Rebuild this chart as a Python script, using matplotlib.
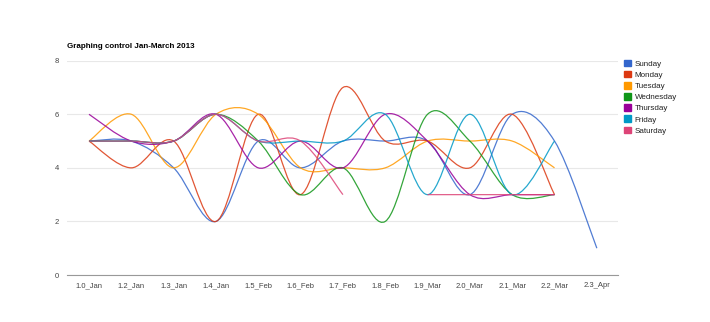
import numpy as np
import matplotlib
matplotlib.use("Agg")
import matplotlib.pyplot as plt
from matplotlib.path import Path
from matplotlib.patches import PathPatch, Patch

plt.rcParams['font.family'] = ['Liberation Sans', 'DejaVu Sans']

categories = ["1.0_Jan", "1.2_Jan", "1.3_Jan", "1.4_Jan", "1.5_Feb", "1.6_Feb", "1.7_Feb",
              "1.8_Feb", "1.9_Mar", "2.0_Mar", "2.1_Mar", "2.2_Mar", "2.3_Apr"]

sunday = [5, 5, 4, 2, 5, 4, 5, 5, 5, 3, 6, 5, 1]
monday = [5, 4, 5, 2, 6, 3, 7, 5, 5, 4, 6, 3, None]
tuesday = [5, 6, 4, 6, 6, 4, 4, 4, 5, 5, 5, 4, None]
wednesday = [5, 5, 5, 6, 5, 3, 4, 2, 6, 5, 3, 3, None]
thursday = [6, 5, 5, 6, 4, 5, 4, 6, 5, 3, 3, 3, None]
friday = [5, 5, 5, 6, 5, 5, 5, 6, 3, 6, 3, 5, None]
saturday = [5, 5, 5, 6, 5, 5, 3, None, 3, 3, 3, 3, None]

series_names = ["Sunday", "Monday", "Tuesday", "Wednesday", "Thursday", "Friday", "Saturday"]
series_values = [sunday, monday, tuesday, wednesday, thursday, friday, saturday]
colors = ["#3366cc", "#dc3912", "#ff9900", "#109618", "#990099", "#0099c6", "#dd4477"]


def smooth_path(xs, ys):
    # bezier curve through the points, like the "function" curve type
    verts = [(xs[0], ys[0])]
    codes = [Path.MOVETO]
    n = len(xs)
    for i in range(n - 1):
        x0, y0 = xs[i], ys[i]
        x1, y1 = xs[i + 1], ys[i + 1]
        xp, yp = (xs[i - 1], ys[i - 1]) if i > 0 else (x0, y0)
        xn, yn = (xs[i + 2], ys[i + 2]) if i + 2 < n else (x1, y1)
        c1 = (x0 + (x1 - xp) / 6.0, y0 + (y1 - yp) / 6.0)
        c2 = (x1 - (xn - x0) / 6.0, y1 - (yn - y0) / 6.0)
        verts += [c1, c2, (x1, y1)]
        codes += [Path.CURVE4, Path.CURVE4, Path.CURVE4]
    return Path(verts, codes)


fig = plt.figure(figsize=(7.1, 3.22), dpi=100)
ax = fig.add_axes([67 / 710, 1 - 275 / 322, (618 - 67) / 710, (275 - 60.7) / 322])

for name, vals, col in zip(series_names, series_values, colors):
    # split on gaps
    seg_x, seg_y = [], []
    for i, v in enumerate(vals + [None]):
        if v is None:
            if len(seg_x) > 1:
                ax.add_patch(PathPatch(smooth_path(seg_x, seg_y), facecolor="none",
                                       edgecolor=col, lw=0.9, alpha=0.85, zorder=3))
            seg_x, seg_y = [], []
        else:
            seg_x.append(i)
            seg_y.append(v)

ax.set_xlim(-0.52, len(categories) - 0.5)
ax.set_ylim(0, 8)
ax.set_yticks([0, 2, 4, 6, 8])
ax.set_xticks(range(len(categories)))
ax.set_xticklabels(categories)
ax.tick_params(length=0, labelsize=5.5, colors="#444444", pad=5)
ax.tick_params(axis="y", pad=6)
ax.grid(axis="y", color="#e8e8e8", lw=0.8)
ax.set_axisbelow(True)
for s in ["top", "right", "left"]:
    ax.spines[s].set_visible(False)
ax.spines["bottom"].set_color("#999999")
ax.spines["bottom"].set_linewidth(0.8)

fig.text(67 / 710, 1 - 46 / 322, "Graphing control Jan-March 2013", fontsize=5.8,
         fontweight="bold", va="center", ha="left", color="#000000")

handles = [Patch(facecolor=c, edgecolor=c) for c in colors]
fig.legend(handles, series_names, loc="upper left", bbox_to_anchor=(624 / 710, 1 - 59.5 / 322),
           frameon=False, fontsize=5.8, handlelength=0.9, handleheight=0.9,
           handletextpad=0.4, labelspacing=0.38, borderpad=0, borderaxespad=0,
           labelcolor="#222222")

plt.savefig("out.png", dpi=100)
